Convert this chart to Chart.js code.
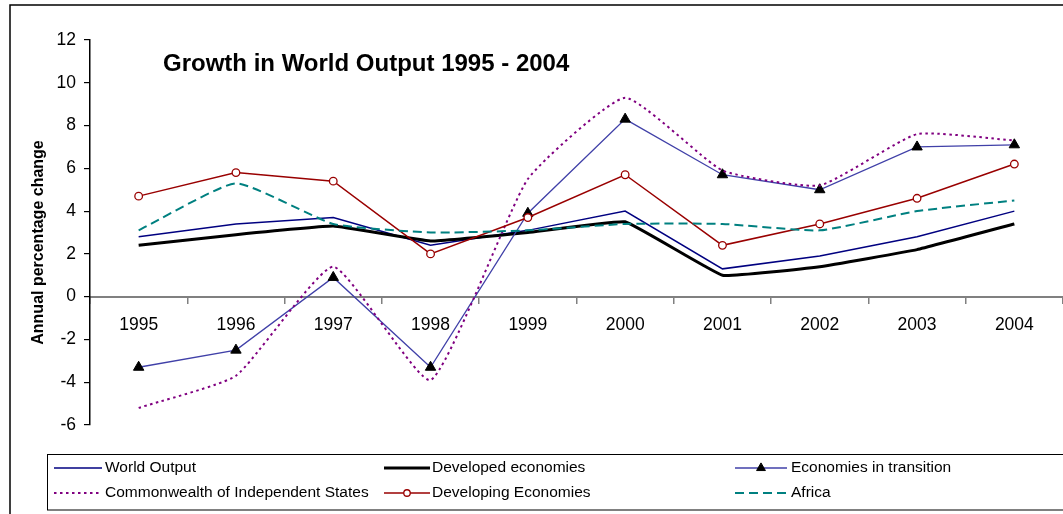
<!DOCTYPE html>
<html>
<head>
<meta charset="utf-8">
<title>Growth in World Output 1995 - 2004</title>
<script src="https://cdn.jsdelivr.net/npm/chart.js@4"></script>
<style>
  html, body { margin: 0; padding: 0; background: #fff; }
  #wrap { position: relative; width: 1063px; height: 514px; overflow: hidden; }
  canvas { display: block; }
</style>
</head>
<body>
<div id="wrap"><canvas id="chart" width="1063" height="514"></canvas></div>
<script>
// Categories and series (annual percentage change)
const years = ['1995', '1996', '1997', '1998', '1999', '2000', '2001', '2002', '2003', '2004'];
const worldOutput = [2.8, 3.4, 3.7, 2.4, 3.1, 4.0, 1.3, 1.9, 2.8, 4.0];
const developedEconomies = [2.4, 2.9, 3.3, 2.6, 3.0, 3.5, 1.0, 1.4, 2.2, 3.4];
const economiesInTransition = [-3.3, -2.5, 0.9, -3.3, 3.9, 8.3, 5.7, 5.0, 7.0, 7.1];
const commonwealthStates = [-5.2, -3.7, 1.4, -3.9, 5.5, 9.3, 5.9, 5.2, 7.6, 7.3];
const developingEconomies = [4.7, 5.8, 5.4, 2.0, 3.7, 5.7, 2.4, 3.4, 4.6, 6.2];
const africa = [3.1, 5.3, 3.4, 3.0, 3.1, 3.4, 3.4, 3.1, 4.0, 4.5];

// Value axis ticks
const yMin = -6;
const yMax = 12;
const yStep = 2;

const chartTitle = 'Growth in World Output 1995 - 2004';
const yAxisTitle = 'Annual percentage change';

const FONT = '"Liberation Sans", Arial, Helvetica, sans-serif';

const datasets = [
  {
    label: 'World Output', data: worldOutput,
    borderColor: '#000080', borderWidth: 1.5, pointRadius: 0, tension: 0, order: 6
  },
  {
    label: 'Developed economies', data: developedEconomies,
    borderColor: '#000000', borderWidth: 3, pointRadius: 0, tension: 0.08, order: 5
  },
  {
    label: 'Economies in transition', data: economiesInTransition,
    borderColor: '#4040a8', borderWidth: 1.3, tension: 0, order: 4,
    pointStyle: 'triangle', pointRadius: 6, pointBorderWidth: 1,
    pointBackgroundColor: '#000', pointBorderColor: '#000'
  },
  {
    label: 'Commonwealth of Independent States', data: commonwealthStates,
    borderColor: '#800080', borderWidth: 2, borderDash: [2.5, 3.5], borderCapStyle: 'butt',
    pointRadius: 0, tension: 0.15, order: 3
  },
  {
    label: 'Developing Economies', data: developingEconomies,
    borderColor: '#990000', borderWidth: 1.5, tension: 0, order: 2,
    pointStyle: 'circle', pointRadius: 3.8, pointBorderWidth: 1.3,
    pointBackgroundColor: '#ffffff', pointBorderColor: '#990000'
  },
  {
    label: 'Africa', data: africa,
    borderColor: '#008080', borderWidth: 2, borderDash: [9, 5],
    pointRadius: 0, tension: 0.15, order: 1
  }
];
datasets.forEach(d => { d.fill = false; d.backgroundColor = d.borderColor; d.clip = false; });

// Page background, outer frame, title and axis title
const framePlugin = {
  id: 'frame',
  beforeDraw(chart) {
    const ctx = chart.ctx;
    ctx.save();
    ctx.fillStyle = '#fff';
    ctx.fillRect(0, 0, chart.width, chart.height);
    ctx.strokeStyle = '#000';
    ctx.lineWidth = 1.5;
    ctx.beginPath();
    ctx.moveTo(10, chart.height + 2);
    ctx.lineTo(10, 5);
    ctx.lineTo(chart.width + 2, 5);
    ctx.stroke();
    ctx.restore();
  },
  afterDraw(chart) {
    const ctx = chart.ctx;
    ctx.save();
    ctx.fillStyle = '#000';
    ctx.font = 'bold 24px ' + FONT;
    ctx.textAlign = 'left';
    ctx.textBaseline = 'alphabetic';
    ctx.fillText(chartTitle, 163, 71);

    ctx.font = 'bold 16px ' + FONT;
    ctx.translate(43, 242.5);
    ctx.rotate(-Math.PI / 2);
    ctx.textAlign = 'center';
    ctx.fillText(yAxisTitle, 0, 0);
    ctx.restore();
  }
};

// Boxed legend in three columns
const legendPlugin = {
  id: 'boxLegend',
  afterDraw(chart) {
    const ctx = chart.ctx;
    const sampleX = [[54, 102], [384, 430], [735, 787]];
    const textX = [105, 432, 791];
    const rowY = [468, 493];
    ctx.save();
    ctx.strokeStyle = '#000';
    ctx.lineWidth = 1;
    ctx.strokeRect(47.5, 454.5, chart.width + 10, 55.5);

    chart.data.datasets.forEach((ds, i) => {
      const col = i % 3, row = Math.floor(i / 3);
      const [x0, x1] = sampleX[col];
      const y = rowY[row];
      ctx.save();
      ctx.strokeStyle = ds.borderColor;
      ctx.lineWidth = ds.borderWidth;
      ctx.lineCap = ds.borderCapStyle || 'butt';
      ctx.setLineDash(ds.borderDash || []);
      ctx.beginPath();
      ctx.moveTo(x0, y);
      ctx.lineTo(x1, y);
      ctx.stroke();
      ctx.restore();
      if (ds.pointRadius > 0) {
        ctx.save();
        ctx.fillStyle = ds.pointBackgroundColor;
        ctx.strokeStyle = ds.pointBorderColor;
        ctx.lineWidth = ds.pointBorderWidth;
        Chart.helpers.drawPoint(ctx, {
          pointStyle: ds.pointStyle, radius: ds.pointRadius * 0.85,
          borderWidth: ds.pointBorderWidth, rotation: 0
        }, (x0 + x1) / 2, y);
        ctx.restore();
      }
      ctx.fillStyle = '#000';
      ctx.font = '15.5px ' + FONT;
      ctx.textAlign = 'left';
      ctx.textBaseline = 'middle';
      ctx.fillText(ds.label, textX[col], y);
    });
    ctx.restore();
  }
};

new Chart(document.getElementById('chart'), {
  type: 'line',
  data: { labels: years, datasets: datasets },
  plugins: [framePlugin, legendPlugin],
  options: {
    responsive: false,
    animation: false,
    devicePixelRatio: 1,
    layout: { autoPadding: false, padding: { top: 40, bottom: 89, left: 0, right: 0 } },
    plugins: { legend: { display: false }, title: { display: false }, tooltip: { enabled: false } },
    elements: { line: { borderJoinStyle: 'miter' } },
    scales: {
      x: {
        type: 'category',
        offset: true,
        position: { y: 0 },
        afterFit(scale) {
          scale.height = 0;
          scale.paddingLeft = 0;
          scale.paddingRight = 0;
        },
        grid: {
          display: true, offset: true, drawOnChartArea: false, drawTicks: true,
          tickLength: 6, color: '#808080', lineWidth: 1.5
        },
        border: { display: true, color: '#808080', width: 2 },
        ticks: {
          color: '#000', padding: 12, maxRotation: 0, autoSkip: false,
          font: { family: FONT, size: 17.5 }
        }
      },
      y: {
        min: yMin, max: yMax,
        afterFit(scale) { scale.width = 90; },
        grid: {
          display: true, drawOnChartArea: false, drawTicks: true,
          tickLength: 6, color: '#000', lineWidth: 1.2
        },
        border: { display: true, color: '#000', width: 1.5 },
        ticks: {
          stepSize: yStep, color: '#000', padding: 8,
          font: { family: FONT, size: 17.5 }
        }
      }
    }
  }
});
</script>
</body>
</html>
